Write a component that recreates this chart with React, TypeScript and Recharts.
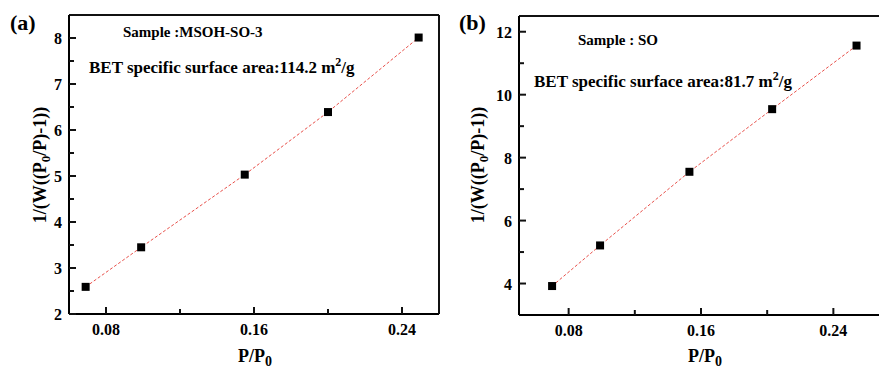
import React from 'react';
import { ScatterChart, Scatter, XAxis, YAxis } from 'recharts';

// P/P0 and 1/(W((P0/P)-1))
const ppA = [0.069, 0.099, 0.155, 0.2, 0.249];
const wA = [2.59, 3.45, 5.03, 6.39, 8.01];
const ppB = [0.07, 0.099, 0.153, 0.203, 0.254];
const wB = [3.92, 5.21, 7.55, 9.54, 11.56];

const xTicksA = [0.08, 0.12, 0.16, 0.2, 0.24];
const xTicksB = [0.08, 0.12, 0.16, 0.2, 0.24];
const yTicksA = [2, 2.5, 3, 3.5, 4, 4.5, 5, 5.5, 6, 6.5, 7, 7.5, 8];
const yTicksB = [4, 5, 6, 7, 8, 9, 10, 11, 12];

const FONT = '"Liberation Serif", "Times New Roman", serif';
const INK = '#111';

const toPoints = (xs: number[], ys: number[]) => xs.map((x, i) => ({ x, y: ys[i] }));

const XTick = (props: any) => {
  const { x, y, payload } = props;
  const v = payload.value;
  const major = Math.round(v * 100) % 8 === 0;
  return (
    <g>
      <line x1={x} x2={x} y1={y} y2={y - (major ? 7 : 5)} stroke={INK} strokeWidth={2} />
      {major && (
        <text x={x} y={y + 21} textAnchor="middle" fontFamily={FONT} fontWeight="bold" fontSize={16} fill="#000">
          {v.toFixed(2)}
        </text>
      )}
    </g>
  );
};

const makeYTick = (labelStep: number) => (props: any) => {
  const { x, y, payload } = props;
  const v = payload.value;
  const major = Math.abs(v / labelStep - Math.round(v / labelStep)) < 0.001;
  return (
    <g>
      <line x1={x} x2={x + (major ? 7 : 5)} y1={y} y2={y} stroke={INK} strokeWidth={2} />
      {major && (
        <text x={x - 7} y={y + 6} textAnchor="end" fontFamily={FONT} fontWeight="bold" fontSize={16} fill="#000">
          {v}
        </text>
      )}
    </g>
  );
};

const YTickA = makeYTick(1);
const YTickB = makeYTick(2);

const YTitle = ({ cx }: { cx: number }) => (
  <text transform={`translate(${cx},165) rotate(-90)`} textAnchor="middle" fontFamily={FONT} fontWeight="bold" fontSize={18} fill="#000">
    1/(W((P<tspan fontSize={13} dy={4}>0</tspan><tspan dy={-4}>/P)-1))</tspan>
  </text>
);

const XTitle = ({ cx }: { cx: number }) => (
  <text x={cx} y={362} textAnchor="middle" fontFamily={FONT} fontWeight="bold" fontSize={18} fill="#000">
    P/P<tspan fontSize={14} dy={4}>0</tspan>
  </text>
);

const Notes = ({ tag, sample, area, tagX, sx, sy, bx, by }: any) => (
  <g fontFamily={FONT} fontWeight="bold" fill="#000">
    <text x={tagX} y={30} fontSize={22}>{tag}</text>
    <text x={sx} y={sy} fontSize={15}>{sample}</text>
    <text x={bx} y={by} fontSize={17}>
      BET specific surface area:{area} m<tspan fontSize={12} dy={-7}>2</tspan><tspan dy={7}>/g</tspan>
    </text>
  </g>
);

const SquareDot = (props: any) => {
  const { cx, cy } = props;
  return <rect x={cx - 4} y={cy - 4} width={8} height={8} fill="#000" />;
};

const lineStyle = { stroke: '#e8504a', strokeWidth: 1, strokeDasharray: '3 2' };

export default function App() {
  return (
    <div style={{ position: 'absolute', left: 0, top: 0, width: 879, height: 370, background: '#fff', overflow: 'hidden' }}>
      <div style={{ position: 'absolute', left: 0, top: 0 }}>
        <ScatterChart width={440} height={370} margin={{ top: 14, right: 0, bottom: 0, left: 0 }}>
          <XAxis
            type="number"
            dataKey="x"
            domain={[0.06, 0.26]}
            ticks={xTicksA}
            interval={0}
            tick={<XTick />}
            tickSize={0}
            tickMargin={0}
            tickLine={false}
            height={56}
            axisLine={{ stroke: '#000', strokeWidth: 2 }}
            label={<XTitle cx={255} />}
          />
          <XAxis
            xAxisId="top"
            orientation="top"
            type="number"
            domain={[0.06, 0.26]}
            height={1}
            tick={false}
            tickLine={false}
            axisLine={{ stroke: INK, strokeWidth: 2 }}
            label={<Notes tag="(a)" sample="Sample :MSOH-SO-3" area="114.2" tagX={10} sx={123} sy={37} bx={89} by={73} />}
          />
          <YAxis
            type="number"
            dataKey="y"
            domain={[2, 8.5]}
            ticks={yTicksA}
            interval={0}
            tick={<YTickA />}
            tickSize={0}
            tickMargin={0}
            tickLine={false}
            width={69}
            axisLine={{ stroke: '#000', strokeWidth: 2 }}
            label={<YTitle cx={46} />}
          />
          <YAxis yAxisId="right" orientation="right" type="number" domain={[2, 8.5]} width={1} tick={false} tickLine={false} axisLine={{ stroke: INK, strokeWidth: 2 }} />
          <Scatter
            data={toPoints(ppA, wA)}
            shape={<SquareDot />}
            line={lineStyle}
            lineType="joint"
            isAnimationActive={false}
          />
        </ScatterChart>
      </div>
      <div style={{ position: 'absolute', left: 440, top: 0 }}>
        <ScatterChart width={443} height={370} margin={{ top: 15, right: 0, bottom: 0, left: 0 }}>
          <XAxis
            type="number"
            dataKey="x"
            domain={[0.05, 0.27]}
            ticks={xTicksB}
            interval={0}
            tick={<XTick />}
            tickSize={0}
            tickMargin={0}
            tickLine={false}
            height={55}
            axisLine={{ stroke: '#000', strokeWidth: 2 }}
            label={<XTitle cx={265} />}
          />
          <XAxis
            xAxisId="top"
            orientation="top"
            type="number"
            domain={[0.05, 0.27]}
            height={1}
            tick={false}
            tickLine={false}
            axisLine={{ stroke: INK, strokeWidth: 2 }}
            label={<Notes tag="(b)" sample="Sample : SO" area="81.7" tagX={19} sx={138} sy={45} bx={94} by={87} />}
          />
          <YAxis
            type="number"
            dataKey="y"
            domain={[3, 12.5]}
            ticks={yTicksB}
            interval={0}
            tick={<YTickB />}
            tickSize={0}
            tickMargin={0}
            tickLine={false}
            width={79}
            axisLine={{ stroke: '#000', strokeWidth: 2 }}
            label={<YTitle cx={44} />}
          />
          <Scatter
            data={toPoints(ppB, wB)}
            shape={<SquareDot />}
            line={lineStyle}
            lineType="joint"
            isAnimationActive={false}
          />
        </ScatterChart>
      </div>
    </div>
  );
}
